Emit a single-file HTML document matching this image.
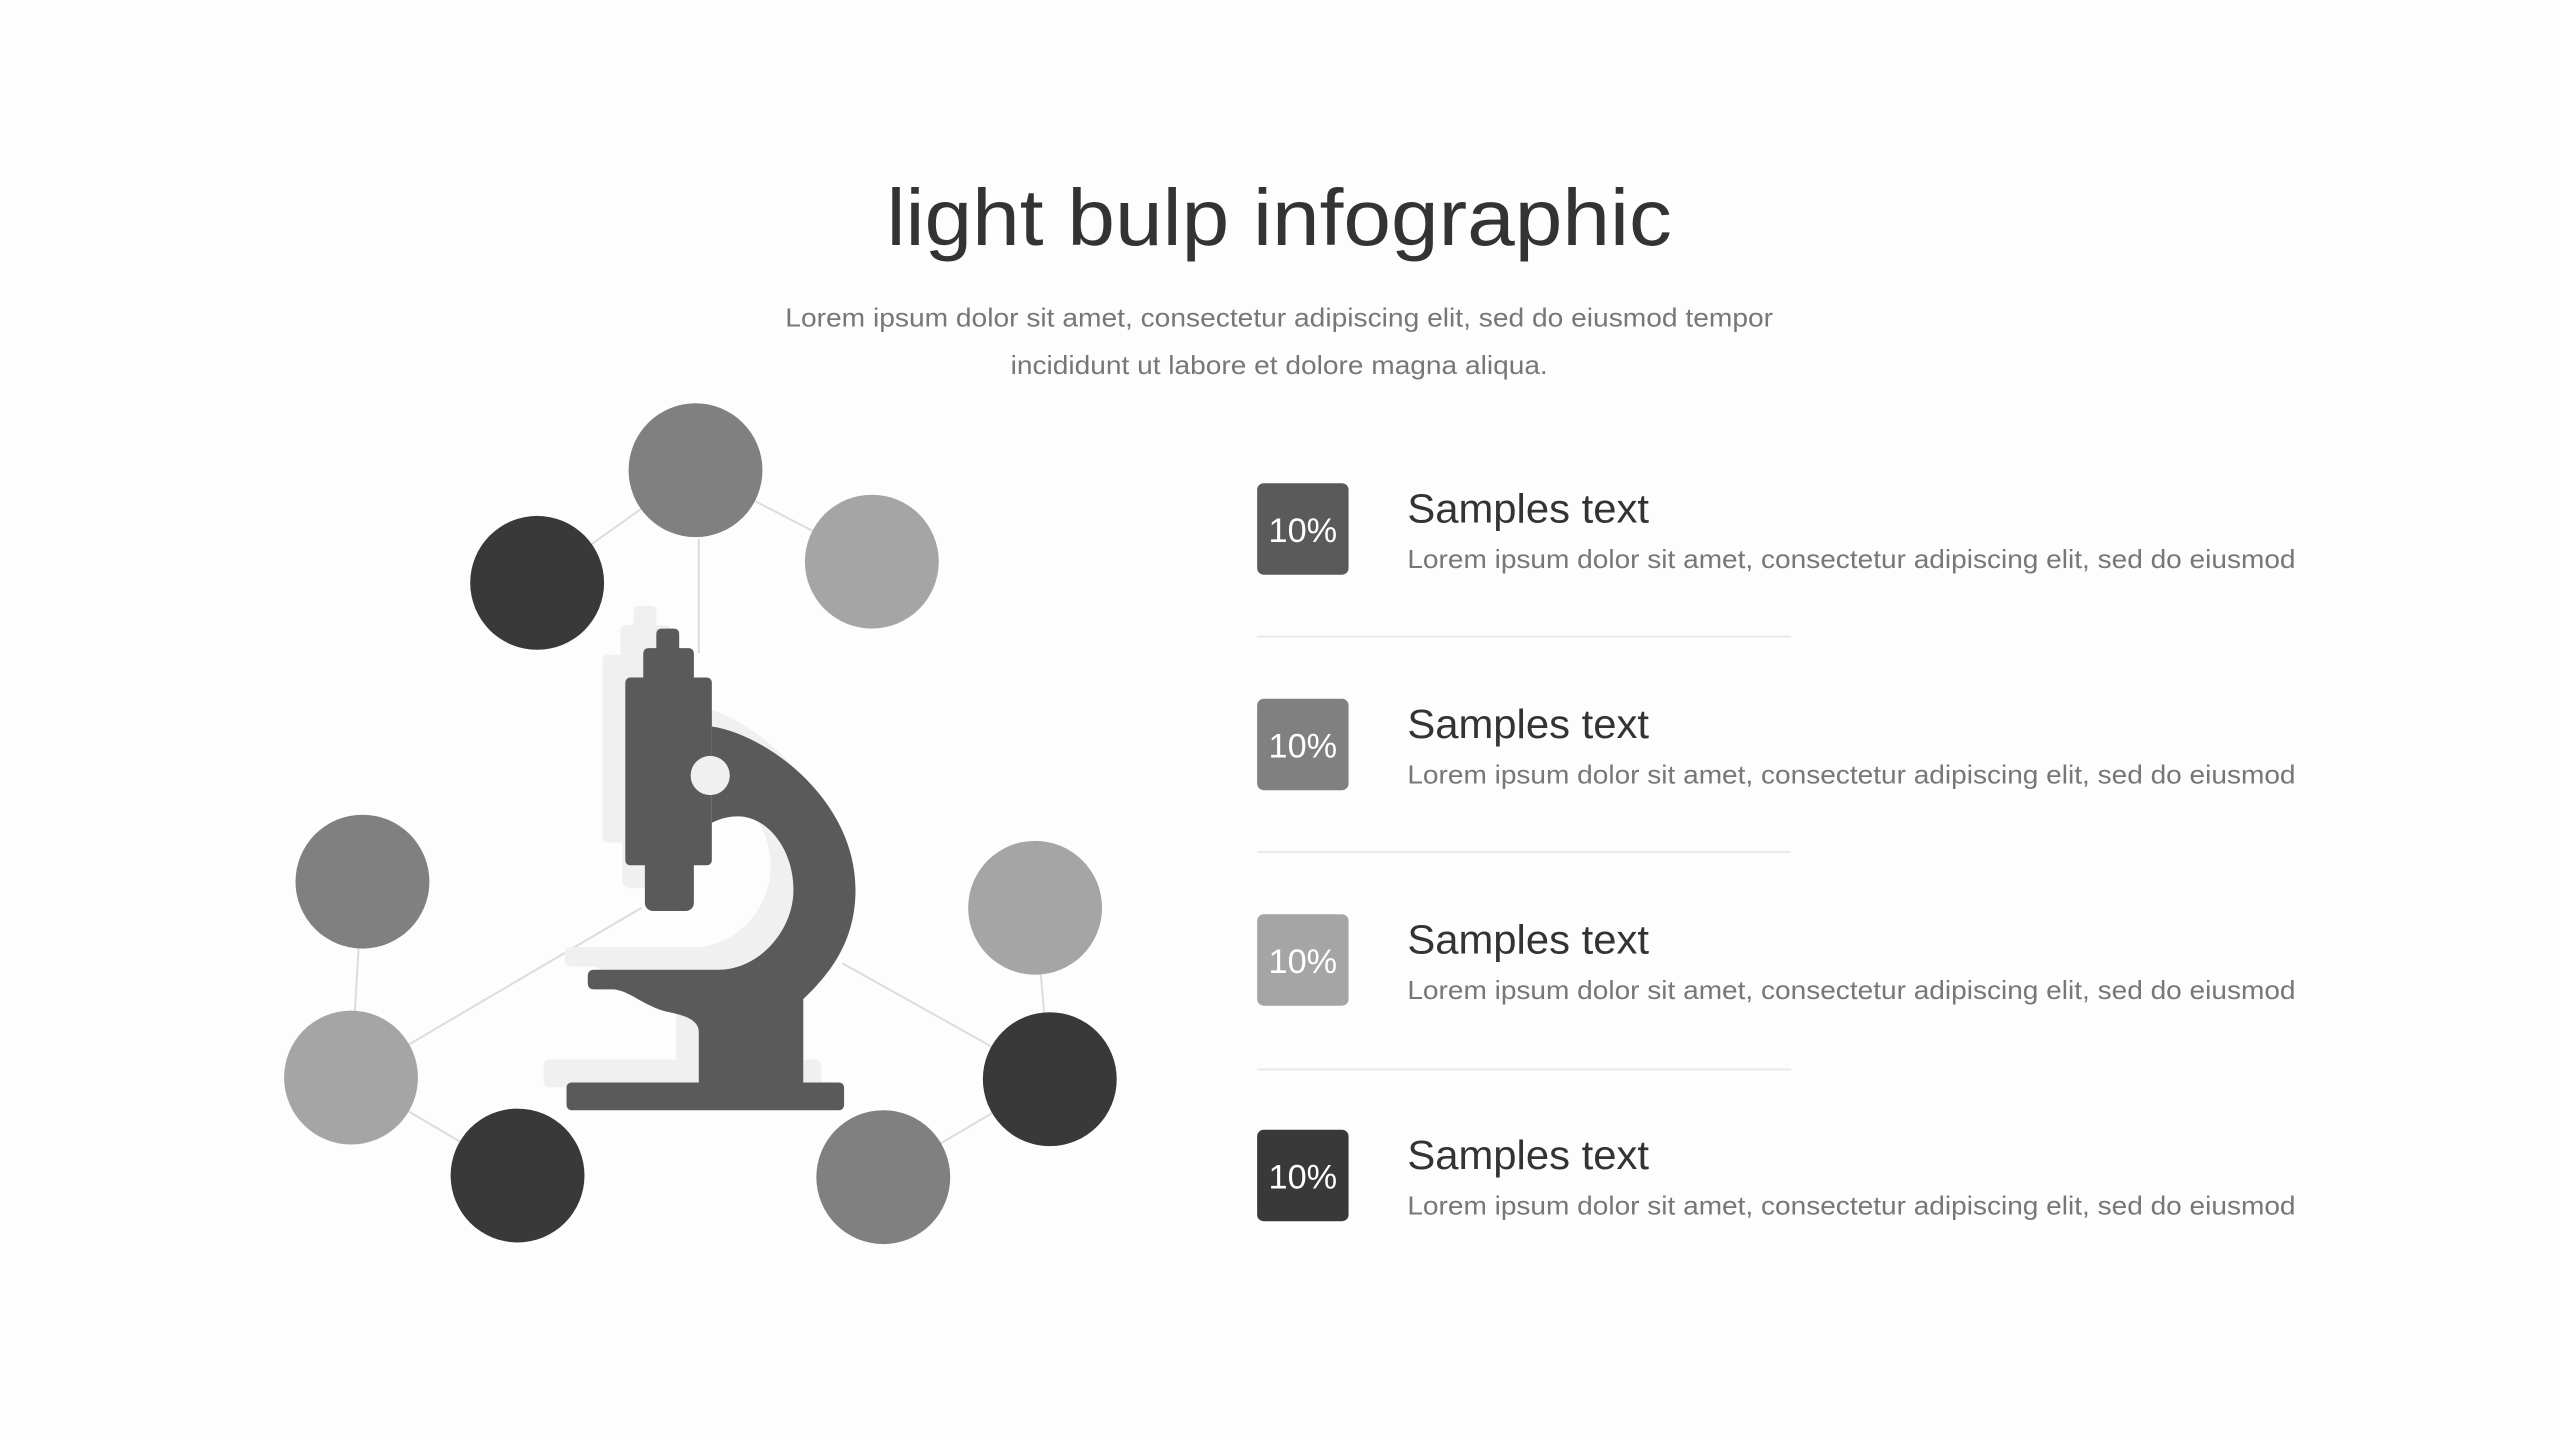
<!DOCTYPE html>
<html><head><meta charset="utf-8"><style>
html,body{margin:0;padding:0;background:#fdfdfd;}
svg{display:block;}
text{font-family:"Liberation Sans",sans-serif;}
</style></head><body>
<svg width="2560" height="1440" viewBox="0 0 1568 882" xmlns="http://www.w3.org/2000/svg">
<rect width="1568" height="882" fill="#fdfdfd"/>
<text x="543" y="150" font-size="49" fill="#333" textLength="481" lengthAdjust="spacingAndGlyphs">light bulp infographic</text>
<text x="481" y="200" font-size="16" fill="#777" textLength="605" lengthAdjust="spacingAndGlyphs">Lorem ipsum dolor sit amet, consectetur adipiscing elit, sed do eiusmod tempor</text>
<text x="619" y="229" font-size="16" fill="#777" textLength="329" lengthAdjust="spacingAndGlyphs">incididunt ut labore et dolore magna aliqua.</text>

<g stroke="#dcdcdc" stroke-width="1.2" fill="none">
<line x1="426" y1="288" x2="329" y2="357"/>
<line x1="426" y1="288" x2="534" y2="344"/>
<line x1="428" y1="330" x2="428" y2="400"/>
<line x1="222" y1="540" x2="215" y2="660"/>
<line x1="215" y1="660" x2="317" y2="720"/>
<line x1="250" y1="640" x2="393" y2="556"/>
<line x1="516" y1="590" x2="643" y2="661"/>
<line x1="634" y1="556" x2="643" y2="661"/>
<line x1="643" y1="661" x2="541" y2="721"/>
</g>

<g id="mic-shadow" fill="#f0f0f0" transform="translate(-14,-14)">
<rect x="402" y="385" width="14" height="16" rx="3"/>
<rect x="394" y="397" width="31" height="22" rx="3"/>
<rect x="383" y="415" width="53" height="115" rx="3"/>
<rect x="395" y="525" width="30" height="33" rx="5"/>
<path d="M436 445 C470 450 524 490 524 545 C524 575 510 595 492 612 L492 663 L428 663 L428 632 C428 625 420 622 410 620 C395 617 385 606 375 606 L364 606 Q360 606 360 602 L360 598 Q360 594 364 594 L440 594 C465 594 486 570 486 545 C486 520 470 500 452 500 C445 500 440 502 436 504 Z"/>
<rect x="347" y="663" width="170" height="17" rx="3"/>
</g>
<g fill="#5a5a5a">
<rect x="402" y="385" width="14" height="16" rx="3"/>
<rect x="394" y="397" width="31" height="22" rx="3"/>
<rect x="383" y="415" width="53" height="115" rx="3"/>
<rect x="395" y="525" width="30" height="33" rx="5"/>
<path d="M436 445 C470 450 524 490 524 545 C524 575 510 595 492 612 L492 663 L428 663 L428 632 C428 625 420 622 410 620 C395 617 385 606 375 606 L364 606 Q360 606 360 602 L360 598 Q360 594 364 594 L440 594 C465 594 486 570 486 545 C486 520 470 500 452 500 C445 500 440 502 436 504 Z"/>
<rect x="347" y="663" width="170" height="17" rx="3"/>
</g>
<circle cx="435" cy="475" r="12" fill="#f0f0f0"/>

<circle cx="426" cy="288" r="41" fill="#808080"/>
<circle cx="329" cy="357" r="41" fill="#3a393a"/>
<circle cx="534" cy="344" r="41" fill="#a5a5a5"/>
<circle cx="222" cy="540" r="41" fill="#808080"/>
<circle cx="215" cy="660" r="41" fill="#a5a5a5"/>
<circle cx="317" cy="720" r="41" fill="#3a393a"/>
<circle cx="634" cy="556" r="41" fill="#a5a5a5"/>
<circle cx="643" cy="661" r="41" fill="#3a393a"/>
<circle cx="541" cy="721" r="41" fill="#808080"/>

<g stroke="#e6e6e6" stroke-width="1">
<line x1="770" y1="390" x2="1097" y2="390"/>
<line x1="770" y1="522" x2="1097" y2="522"/>
<line x1="770" y1="655" x2="1097" y2="655"/>
</g>

<g>
<rect x="770" y="296" width="56" height="56" rx="4" fill="#5a5a5a"/>
<text x="798" y="332" font-size="21" fill="#fff" text-anchor="middle">10%</text>
<text x="862" y="320" font-size="25" fill="#333" textLength="148" lengthAdjust="spacingAndGlyphs">Samples text</text>
<text x="862" y="348" font-size="16" fill="#777" textLength="544" lengthAdjust="spacingAndGlyphs">Lorem ipsum dolor sit amet, consectetur adipiscing elit, sed do eiusmod</text>

<rect x="770" y="428" width="56" height="56" rx="4" fill="#808080"/>
<text x="798" y="464" font-size="21" fill="#fff" text-anchor="middle">10%</text>
<text x="862" y="452" font-size="25" fill="#333" textLength="148" lengthAdjust="spacingAndGlyphs">Samples text</text>
<text x="862" y="480" font-size="16" fill="#777" textLength="544" lengthAdjust="spacingAndGlyphs">Lorem ipsum dolor sit amet, consectetur adipiscing elit, sed do eiusmod</text>

<rect x="770" y="560" width="56" height="56" rx="4" fill="#a5a5a5"/>
<text x="798" y="596" font-size="21" fill="#fff" text-anchor="middle">10%</text>
<text x="862" y="584" font-size="25" fill="#333" textLength="148" lengthAdjust="spacingAndGlyphs">Samples text</text>
<text x="862" y="612" font-size="16" fill="#777" textLength="544" lengthAdjust="spacingAndGlyphs">Lorem ipsum dolor sit amet, consectetur adipiscing elit, sed do eiusmod</text>

<rect x="770" y="692" width="56" height="56" rx="4" fill="#3a393a"/>
<text x="798" y="728" font-size="21" fill="#fff" text-anchor="middle">10%</text>
<text x="862" y="716" font-size="25" fill="#333" textLength="148" lengthAdjust="spacingAndGlyphs">Samples text</text>
<text x="862" y="744" font-size="16" fill="#777" textLength="544" lengthAdjust="spacingAndGlyphs">Lorem ipsum dolor sit amet, consectetur adipiscing elit, sed do eiusmod</text>
</g>
</svg>
</body></html>
